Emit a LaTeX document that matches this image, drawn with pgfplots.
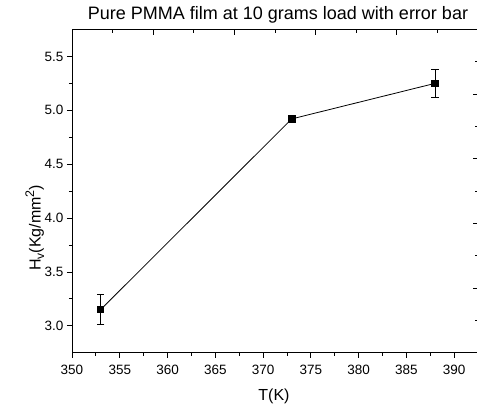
\documentclass[border=0pt]{standalone}
\usepackage{pgfplots}
\pgfplotsset{compat=1.18}
\usepackage{fontspec}
\setmainfont{Liberation Sans}
\begin{document}
\begin{tikzpicture}
\useasboundingbox (-72pt,-55.3pt) rectangle (405pt,352.7pt);
\begin{axis}[
 at={(0pt,0pt)}, anchor=south west,
 width=406pt, height=323.2pt, scale only axis,
 xmin=0, xmax=5, ymin=0, ymax=5,
 xtick={0,...,5}, ytick={0,...,5},
 minor x tick num=1, minor y tick num=1,
 xtick pos=top, ytick pos=right, tick align=inside,
 xticklabels={}, yticklabels={},
 major tick length=5.5pt, minor tick length=3pt,
 tick style={black, line width=0.8pt},
 axis line style={draw=none},
]
\end{axis}
\begin{axis}[
 at={(0pt,0pt)}, anchor=south west,
 width=406pt, height=323.2pt, scale only axis,
 xmin=350, xmax=392.5, ymin=2.75, ymax=5.75,
 xtick={350,355,...,390}, ytick={3.0,3.5,...,5.5},
 minor x tick num=1, minor y tick num=1,
 xtick pos=bottom, ytick pos=left, tick align=outside,
 major tick length=5pt, minor tick length=3pt,
 tick style={black, line width=0.8pt},
 axis line style={black, line width=0.9pt},
 /pgf/number format/assume math mode=true,
 xticklabel style={yshift=-4pt, /pgf/number format/.cd, fixed, precision=0},
 yticklabel style={/pgf/number format/.cd, fixed, fixed zerofill, precision=1},
 ticklabel style={font=\fontsize{13.5}{14}\selectfont},
 title={Pure PMMA film at 10 grams load with error bar},
 title style={font=\fontsize{18}{20}\selectfont, at={(axis description cs:0.5,1)}, anchor=base, yshift=4.5pt, xshift=3pt},
 xlabel={T(K)},
 xlabel style={font=\fontsize{16}{18}\selectfont, at={(axis description cs:0.5,0)}, anchor=base, yshift=-48pt, xshift=-1pt},
 ylabel={H\raisebox{-3.5pt}{\fontsize{12}{12}\selectfont v}(Kg/mm\raisebox{6.5pt}{\fontsize{12.5}{12}\selectfont 2})},
 ylabel style={font=\fontsize{16}{18}\selectfont, at={(axis description cs:-0.0919,0.386)}, anchor=center},
]
\addplot[black, line width=0.8pt, mark=square*, mark size=3.2pt,
  error bars/.cd, y dir=both, y explicit,
  error bar style={line width=0.8pt, black},
  error mark options={rotate=90, mark size=3.6pt, line width=0.8pt, black}]
  coordinates {(353,3.15) +- (0,0.14) (373,4.92) +- (0,0.02) (388,5.25) +- (0,0.13)};
\end{axis}
\end{tikzpicture}
\end{document}
